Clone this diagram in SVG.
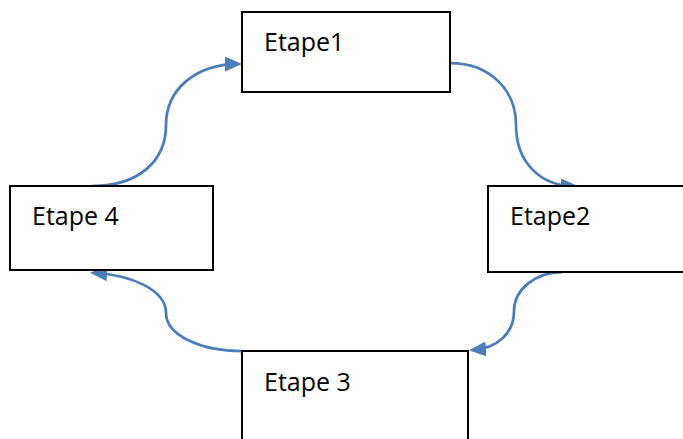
<svg xmlns="http://www.w3.org/2000/svg" width="683" height="439" viewBox="0 0 683 439">
<style>
.box{fill:#fff;stroke:#000;stroke-width:2}
.lbl{font-family:"Open Sans","Liberation Sans",sans-serif;font-size:25px;fill:#000}
.con{fill:none;stroke:#4A7EBB;stroke-width:2.75}
</style>
<defs>
<marker id="arr" markerUnits="userSpaceOnUse" markerWidth="17" markerHeight="15" viewBox="0 0 17 15" refX="13" refY="7.5" orient="auto">
<path d="M0,0 L17,7.5 L0,15 z" fill="#4A7EBB"/>
</marker>
</defs>
<rect width="683" height="439" fill="#fff"/>
<g id="connectors">
<path class="con" marker-end="url(#arr)" d="M92,186 C140,186 166,160 166,125 C166,90 195,64 238,64"/>
<path class="con" marker-end="url(#arr)" d="M450,63 C490,63 516,90 516,125 C516,162 540,186 574,186"/>
<path class="con" marker-end="url(#arr)" d="M562,272 C535,272 514,290 514,311 C514,333 498,348 473,350"/>
<path class="con" marker-end="url(#arr)" d="M242,351 C200,351 166,335 166,313 C166,290 132,275 94,273"/>
</g>
<g id="etape1">
<rect class="box" x="242" y="12" width="208" height="80"/>
<text class="lbl" x="264" y="51">Etape1</text>
</g>
<g id="etape2">
<rect class="box" x="488" y="186" width="200" height="86"/>
<text class="lbl" x="510" y="225">Etape2</text>
</g>
<g id="etape4">
<rect class="box" x="10" y="186" width="203" height="84"/>
<text class="lbl" x="32" y="225">Etape 4</text>
</g>
<g id="etape3">
<rect class="box" x="242" y="351" width="226" height="100"/>
<text class="lbl" x="264" y="391">Etape 3</text>
</g>
</svg>
